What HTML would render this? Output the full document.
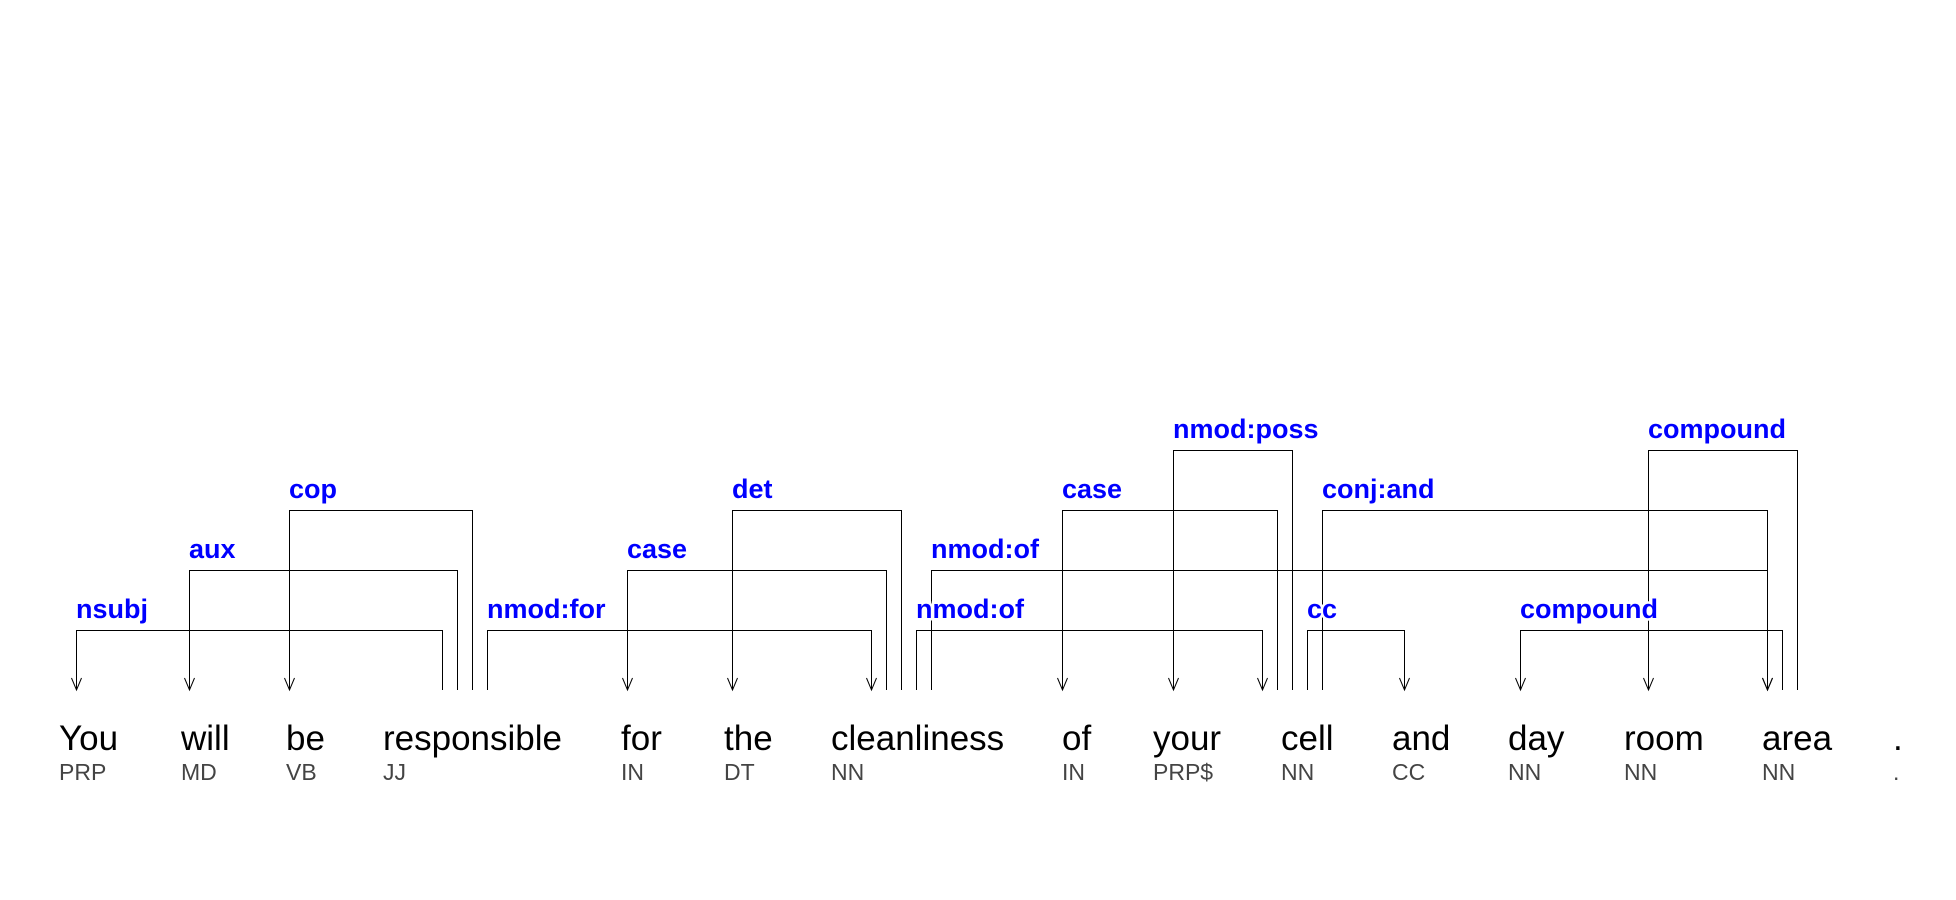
<!DOCTYPE html>
<html><head><meta charset="utf-8"><style>
html,body{margin:0;padding:0;background:#fff;}
svg{display:block;}
.w{font-family:"Liberation Sans",sans-serif;font-size:35px;fill:#000;}
.p{font-family:"Liberation Sans",sans-serif;font-size:23px;fill:#444;}
.l{font-family:"Liberation Sans",sans-serif;font-size:27px;font-weight:bold;fill:#0000ff;stroke:#fff;stroke-width:5px;paint-order:stroke;}
</style></head><body>
<svg id="dep" width="1956" height="900" viewBox="0 0 1956 900" xmlns="http://www.w3.org/2000/svg"></svg>
<script>
const words=["You","will","be","responsible","for","the","cleanliness","of","your","cell","and","day","room","area","."];
const tags=["PRP","MD","VB","JJ","IN","DT","NN","IN","PRP$","NN","CC","NN","NN","NN","."];
const wordX=[59,181,286,383,621,724,831,1062,1153,1281,1392,1508,1624,1762,1893];
// arcs: label, arrow-end x, head-end x, level (0 lowest)
const arcLabels=["nsubj","aux","cop","nmod:for","case","det","nmod:of","nmod:of","case","nmod:poss","conj:and","cc","compound","compound"];
const arcDep=[76,189,289,871,627,732,1262,1767,1062,1173,1767,1404,1520,1648];
const arcHead=[442,457,472,487,886,901,916,931,1277,1292,1322,1307,1782,1797];
const arcLevel=[0,1,2,0,1,2,0,1,2,3,2,0,0,3];
const NS="http://www.w3.org/2000/svg";
const svg=document.getElementById('dep');
const levelY=l=>630-60*l;
const baseY=690;
const lines=document.createElementNS(NS,'g');


svg.appendChild(lines);
const labs=document.createElementNS(NS,'g');
svg.appendChild(labs);
arcLabels.forEach((lab,i)=>{
  const y=levelY(arcLevel[i]);
  const a=arcDep[i],h=arcHead[i];
  const p=document.createElementNS(NS,'path');
  
  
  p.setAttribute('d',`M${a+0.5},${baseY}V${y+0.5}H${h+0.5}V${baseY}M${a-4.5},${baseY-12}L${a+0.5},${baseY}L${a+5.5},${baseY-12}`);
  p.setAttribute('fill','none');p.setAttribute('stroke','#000');p.setAttribute('stroke-width','1');
  lines.appendChild(p);
  const t=document.createElementNS(NS,'text');
  
  
  t.setAttribute('class','l');
  t.setAttribute('x',Math.min(a,h));t.setAttribute('y',y-12);
  t.textContent=lab;labs.appendChild(t);
});
words.forEach((w,i)=>{
  const t=document.createElementNS(NS,'text');
  
  
  t.setAttribute('class','w');t.setAttribute('x',wordX[i]);t.setAttribute('y',750);
  t.textContent=w;svg.appendChild(t);
  const q=document.createElementNS(NS,'text');
  
  
  q.setAttribute('class','p');q.setAttribute('x',wordX[i]);q.setAttribute('y',780);
  q.textContent=tags[i];svg.appendChild(q);
});
</script>
</body></html>
